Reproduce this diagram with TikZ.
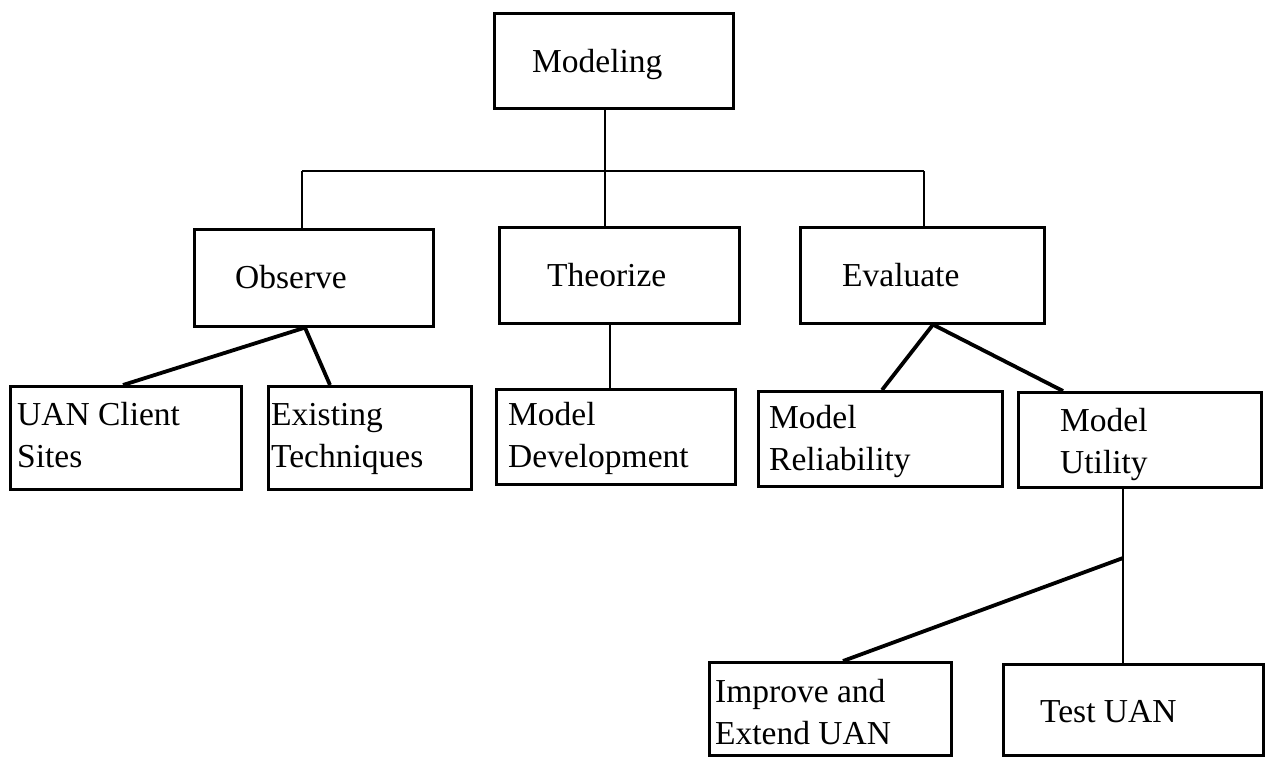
\documentclass[tikz,border=0pt]{standalone}
\usepackage{fontspec}
\setmainfont{Liberation Serif}
\begin{document}
\begin{tikzpicture}[x=1pt,y=-1pt,
  box/.style={draw=black, line width=2.6pt, rectangle, inner sep=0pt, anchor=north west},
  lbl/.style={anchor=base west, inner sep=0pt, align=left, font=\fontsize{33.5}{42}\selectfont},
  link/.style={line width=2.2pt},
  slant/.style={line width=3.8pt}]
\useasboundingbox (0,0) rectangle (1269,756);

% boxes
\node[box, minimum width=239pt, minimum height=95pt]  (modeling) at (493,12)   {};
\node[box, minimum width=239pt, minimum height=97pt]  (obs)      at (193,228)  {};
\node[box, minimum width=240pt, minimum height=96pt]  (theo)     at (498,226)  {};
\node[box, minimum width=244pt, minimum height=96pt]  (eval)     at (799,226)  {};
\node[box, minimum width=231pt, minimum height=103pt] (uan)      at (9,385)    {};
\node[box, minimum width=203pt, minimum height=103pt] (exist)    at (267,385)  {};
\node[box, minimum width=239pt, minimum height=95pt]  (dev)      at (495,388)  {};
\node[box, minimum width=244pt, minimum height=95pt]  (rel)      at (757,390)  {};
\node[box, minimum width=243pt, minimum height=95pt]  (util)     at (1017,391) {};
\node[box, minimum width=242pt, minimum height=93pt]  (impr)     at (708,661)  {};
\node[box, minimum width=260pt, minimum height=91pt]  (test)     at (1002,663) {};

% labels (multi-line labels sit on the baseline of their last line)
\node[lbl] (tModeling) at (532,72)   {Modeling};
\node[lbl] (tObs)      at (235,288)  {Observe};
\node[lbl] (tTheo)     at (547,286)  {Theorize};
\node[lbl] (tEval)     at (842,286)  {Evaluate};
\node[lbl] (tUan)      at (17,467)   {UAN Client\\Sites};
\node[lbl] (tExist)    at (271,467)  {Existing\\Techniques};
\node[lbl] (tDev)      at (508,467)  {Model\\Development};
\node[lbl] (tRel)      at (769,470)  {Model\\Reliability};
\node[lbl] (tUtil)     at (1060,473) {Model\\Utility};
\node[lbl] (tImpr)     at (715,744)  {Improve and\\Extend UAN};
\node[lbl] (tTest)     at (1040,722) {Test UAN};

% bus under the top box
\coordinate (busL) at (302,171);
\coordinate (busM) at (605,171);
\coordinate (busR) at (924,171);
\draw[link] (modeling.south -| busM) -- (busM);
\draw[link] (busL) -- (busR);
\draw[link] (busL) -- (busL |- obs.north);
\draw[link] (busM) -- (busM |- theo.north);
\draw[link] (busR) -- (busR |- eval.north);

% second level to leaves
\draw[slant] ([xshift=112pt]obs.south west) -- ([xshift=114pt]uan.north west);
\draw[slant] ([xshift=112pt]obs.south west) -- ([xshift=63pt]exist.north west);
\draw[link]  ([xshift=112pt]theo.south west) -- ([xshift=115pt]dev.north west);
\draw[slant] ([xshift=134pt]eval.south west) -- ([xshift=125pt]rel.north west);
\draw[slant] ([xshift=134pt]eval.south west) -- ([xshift=46pt]util.north west);

% model utility branch
\coordinate (junc) at (1123,558);
\draw[link]  ([xshift=106pt]util.south west) -- (junc) -- ([xshift=121pt]test.north west);
\draw[slant] (junc) -- ([xshift=135pt]impr.north west);
\end{tikzpicture}
\end{document}
